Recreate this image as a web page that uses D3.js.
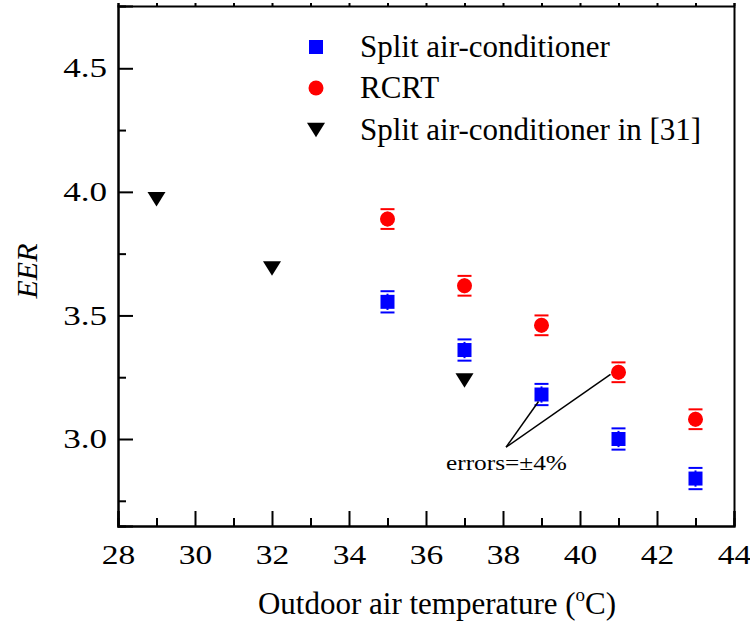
<!DOCTYPE html>
<html>
<head>
<meta charset="utf-8">
<script src="https://cdn.jsdelivr.net/npm/d3@7"></script>
<style>
  body { margin: 0; background: #fff; }
  svg { display: block; font-family: "Liberation Serif", "Times New Roman", serif; }
</style>
</head>
<body>
<svg id="chart" width="750" height="626"></svg>
<script>
/* EER vs outdoor air temperature */

// data
const tempSplit = [35, 37, 39, 41, 43];
const eerSplit  = [3.555, 3.36, 3.18, 3.0, 2.84];
const errSplit  = [0.043, 0.043, 0.043, 0.043, 0.043];

const tempRCRT = [35, 37, 39, 41, 43];
const eerRCRT  = [3.89, 3.62, 3.46, 3.27, 3.08];
const errRCRT  = [0.04, 0.04, 0.04, 0.04, 0.04];

const tempRef = [29, 32, 37];
const eerRef  = [3.97, 3.69, 3.237];

const xTicks = [28, 30, 32, 34, 36, 38, 40, 42, 44];
const yTicks = [3.0, 3.5, 4.0, 4.5];

const legendNames = ["Split air-conditioner", "RCRT", "Split air-conditioner in [31]"];

// annotation apex (in data units) and the points it points to
const noteApex = [38.08, 2.967];
const noteTargets = [[39, 3.18], [41, 3.27]];

const svg = d3.select("#chart");

const x = d3.scaleLinear().domain([28, 44]).range([118, 734]);
const y = d3.scaleLinear().domain([2.648, 4.752]).range([526, 6]);

const blue = "#0000ff", red = "#ff0000";

// widen a text horizontally (the original labels look stretched)
// pos: "start" keeps x, "middle" centres on x, "end" ends on x
function stretch(sel, k, pos) {
  sel.each(function () {
    const t = d3.select(this);
    const w = this.getComputedTextLength(), W = w * k;
    const x0 = +t.attr("x") || 0;
    let xs = x0;
    if (pos === "middle") xs = x0 - W / 2;
    if (pos === "end") xs = x0 - W;
    t.attr("text-anchor", "start").attr("x", xs)
      .attr("textLength", W).attr("lengthAdjust", "spacingAndGlyphs");
  });
}

/*** axes */
const xMinor = d3.range(29, 44, 2);
const yMinor = [2.75, 3.25, 3.75, 4.25];

// bottom axis, ticks inward
let gx = svg.append("g").attr("transform", "translate(0,526)");
gx.call(d3.axisBottom(x).tickValues(xTicks).tickSize(-15).tickPadding(19).tickFormat(d3.format("d")));
gx.append("g").call(d3.axisBottom(x).tickValues(xMinor).tickSize(-8).tickFormat(""));

// left axis, ticks inward
let gy = svg.append("g").attr("transform", "translate(118,0)");
gy.call(d3.axisLeft(y).tickValues(yTicks).tickSize(-15).tickPadding(11).tickFormat(d3.format(".1f")));
gy.append("g").call(d3.axisLeft(y).tickValues(yMinor).tickSize(-8).tickFormat(""));

// top and right frame
svg.append("g").attr("transform", "translate(0,6)")
  .call(d3.axisTop(x).tickValues(d3.range(28, 45, 1)).tickSize(3).tickFormat(""));
svg.append("g").attr("transform", "translate(734,0)")
  .call(d3.axisRight(y).tickValues([]).tickSize(0));

svg.selectAll(".domain").attr("stroke", "#000").attr("stroke-width", 2);
svg.selectAll(".tick line").attr("stroke", "#000").attr("stroke-width", 2);
svg.selectAll(".tick text")
  .attr("font-size", 27).attr("fill", "#000")
  .attr("font-family", "Liberation Serif, serif");

stretch(gx.selectAll(".tick text"), 1.24, "middle");
stretch(gy.selectAll(".tick text"), 1.3, "end");

/*** axis titles */
const xt = svg.append("text")
  .attr("x", 437).attr("y", 614)
  .attr("text-anchor", "middle")
  .attr("font-size", 31);
xt.append("tspan").text("Outdoor air temperature (");
xt.append("tspan").attr("dy", -13).attr("font-size", 19).text("o");
xt.append("tspan").attr("dy", 13).text("C)");

svg.append("text")
  .attr("transform", "translate(37,271) rotate(-90)")
  .attr("text-anchor", "middle")
  .attr("font-size", 30).attr("font-style", "italic")
  .text("EER");

/*** error bars */
function errorBars(xs, ys, es, color) {
  const g = svg.append("g");
  xs.forEach((t, i) => {
    const cx = x(t), y1 = y(ys[i] + es[i]), y2 = y(ys[i] - es[i]);
    g.append("line").attr("x1", cx).attr("x2", cx).attr("y1", y1).attr("y2", y2)
      .attr("stroke", color).attr("stroke-width", 2);
    [y1, y2].forEach(yy => {
      g.append("line").attr("x1", cx - 8).attr("x2", cx + 8).attr("y1", yy).attr("y2", yy)
        .attr("stroke", "#fff").attr("stroke-width", 5);
      g.append("line").attr("x1", cx - 7).attr("x2", cx + 7).attr("y1", yy).attr("y2", yy)
        .attr("stroke", color).attr("stroke-width", 2);
    });
  });
}

errorBars(tempSplit, eerSplit, errSplit, blue);
errorBars(tempRCRT, eerRCRT, errRCRT, red);

/*** markers */
svg.append("g").selectAll("rect").data(tempSplit).join("rect")
  .attr("x", d => x(d) - 7).attr("y", (d, i) => y(eerSplit[i]) - 7)
  .attr("width", 14).attr("height", 14).attr("fill", blue);

svg.append("g").selectAll("circle").data(tempRCRT).join("circle")
  .attr("cx", d => x(d)).attr("cy", (d, i) => y(eerRCRT[i]))
  .attr("r", 7.5).attr("fill", red);

const tri = (cx, cy) => `M${cx - 9},${cy - 7.3}L${cx + 9},${cy - 7.3}L${cx},${cy + 7.3}Z`;
svg.append("g").selectAll("path").data(tempRef).join("path")
  .attr("d", (d, i) => tri(x(d), y(eerRef[i])))
  .attr("fill", "#000");

/*** annotation */
const ax = x(noteApex[0]), ay = y(noteApex[1]);
const ends = [[-3, 7], [-8, 2]];
noteTargets.forEach((p, i) => {
  svg.append("line")
    .attr("x1", ax).attr("y1", ay)
    .attr("x2", x(p[0]) + ends[i][0]).attr("y2", y(p[1]) + ends[i][1])
    .attr("stroke", "#000").attr("stroke-width", 1.5);
});
svg.append("text")
  .attr("x", 446).attr("y", 470)
  .attr("font-size", 22)
  .text("errors=\u00b14%")
  .call(stretch, 1.15, "start");

/*** legend */
const leg = svg.append("g");
const legY = [47, 88, 130];
leg.append("rect").attr("x", 309).attr("y", legY[0] - 7).attr("width", 14).attr("height", 14).attr("fill", blue);
leg.append("circle").attr("cx", 316).attr("cy", legY[1]).attr("r", 7.5).attr("fill", red);
leg.append("path").attr("d", tri(316, legY[2])).attr("fill", "#000");
legendNames.forEach((n, i) => {
  leg.append("text")
    .attr("x", 360).attr("y", legY[i] + 10)
    .attr("font-size", 31)
    .text(n);
});
</script>
</body>
</html>
